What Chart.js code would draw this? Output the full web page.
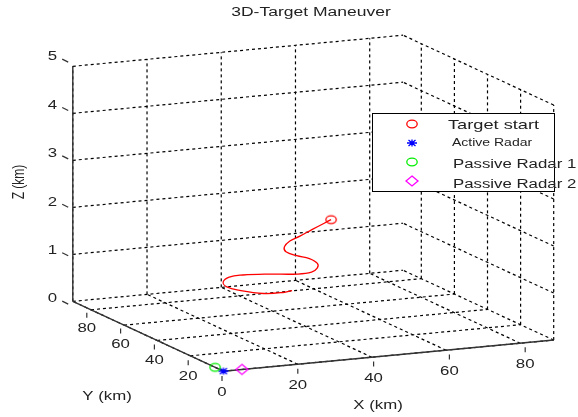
<!DOCTYPE html>
<html>
<head>
<meta charset="utf-8">
<script src="https://cdn.jsdelivr.net/npm/chart.js@4.4.0/dist/chart.umd.min.js"></script>
<style>
html,body{margin:0;padding:0;background:#fff;}
canvas{display:block;}
</style>
</head>
<body>
<canvas id="c" width="578" height="417"></canvas>
<script>
// ---------------- data ----------------
const chartTitle = '3D-Target Maneuver';
const xTitle = 'X (km)';
const yTitle = 'Y (km)';
const zTitle = 'Z (km)';

const xTicks = [0, 20, 40, 60, 80];
const xTickLabels = ['0', '20', '40', '60', '80'];
const yTicks = [0, 20, 40, 60, 80];
const yTickLabels = ['', '20', '40', '60', '80'];
const zTicks = [0, 1, 2, 3, 4, 5];
const zTickLabels = ['0', '1', '2', '3', '4', '5'];
const xLimits = [0, 89];
const yLimits = [0, 91];
const zLimits = [0, 5];

// target trajectory (km)
const targetX = [51.9, 46.4, 42.6, 40.3, 38.5, 38.8, 41.6, 45.3, 47.0, 46.9, 46.0, 44.1, 39.8, 36.1, 34.3, 32.9, 32.4, 34.9, 39.7, 45.0, 48.2];
const targetY = [51.3, 50.3, 49.3, 50.2, 49.5, 49.2, 49.0, 49.6, 48.6, 48.5, 49.9, 54.4, 62.5, 69.1, 73.4, 73.9, 70.9, 67.7, 64.8, 64.9, 66.6];
const targetZ = [2.00, 1.85, 1.75, 1.65, 1.55, 1.45, 1.35, 1.25, 1.15, 1.05, 0.95, 0.85, 0.75, 0.65, 0.55, 0.45, 0.40, 0.35, 0.30, 0.28, 0.27];

const activeRadar = [0, 0, 0];
const passiveRadar1 = [0, 5, 0];
const passiveRadar2 = [5, 0, 0];

const legendLabels = ['Target start', 'Active Radar', 'Passive Radar 1', 'Passive Radar 2'];

// ---------------- view (orthographic projection) ----------------
const ORIGIN = [222, 376];
const EX = [3.79, -0.36];
const EY = [-1.69, -0.79];
const EZ = [0, -48.4];
function proj(x, y, z) {
  return { x: ORIGIN[0] + EX[0] * x + EY[0] * y + EZ[0] * z,
           y: ORIGIN[1] + EX[1] * x + EY[1] * y + EZ[1] * z };
}

const FONT = '"Liberation Sans", Arial, Helvetica, sans-serif';
const SX = 1.4;
const TEXT = '#222222';

function makeMarker(kind, color) {
  const c = document.createElement('canvas');
  c.width = 16; c.height = 14;
  const g = c.getContext('2d');
  g.strokeStyle = color; g.lineWidth = 1.3;
  const cx = 8, cy = 7;
  g.beginPath();
  if (kind === 'circle') {
    g.ellipse(cx, cy, 5.2, 3.8, 0, 0, 2 * Math.PI);
  } else if (kind === 'diamond') {
    g.moveTo(cx, cy - 5); g.lineTo(cx + 6, cy); g.lineTo(cx, cy + 5); g.lineTo(cx - 6, cy); g.closePath();
  } else if (kind === 'star') {
    g.moveTo(cx - 5, cy); g.lineTo(cx + 5, cy);
    g.moveTo(cx - 3.5, cy - 3); g.lineTo(cx + 3.5, cy + 3);
    g.moveTo(cx - 3.5, cy + 3); g.lineTo(cx + 3.5, cy - 3);
    g.moveTo(cx, cy - 3.5); g.lineTo(cx, cy + 3.5);
  }
  g.stroke();
  return c;
}
const mkRed = makeMarker('circle', '#ff0000');
const mkBlue = makeMarker('star', '#0000ff');
const mkGreen = makeMarker('circle', '#00ee00');
const mkMag = makeMarker('diamond', '#ff00ff');
const legendMarkers = [mkRed, mkBlue, mkGreen, mkMag];

// ---------------- datasets ----------------
const datasets = [];
function addLine(p1, p2, dashed) {
  datasets.push({
    data: [proj(...p1), proj(...p2)],
    showLine: true, pointRadius: 0, pointHoverRadius: 0,
    borderColor: dashed ? '#000000' : '#333333',
    borderWidth: dashed ? 1.2 : 1.4,
    borderDash: dashed ? [3, 3] : [],
    order: dashed ? 10 : 5
  });
}
const xm = xLimits[1], ym = yLimits[1], zm = zLimits[1];
// back wall (y = ymax)
xTicks.forEach(t => addLine([t, ym, 0], [t, ym, zm], true));
zTicks.forEach(t => addLine([0, ym, t], [xm, ym, t], true));
// right wall (x = xmax)
yTicks.forEach(t => addLine([xm, t, 0], [xm, t, zm], true));
zTicks.forEach(t => addLine([xm, 0, t], [xm, ym, t], true));
// floor (z = 0)
xTicks.forEach(t => addLine([t, 0, 0], [t, ym, 0], true));
yTicks.forEach(t => addLine([0, t, 0], [xm, t, 0], true));
// solid axes
addLine([0, 0, 0], [xm, 0, 0], false);
addLine([0, 0, 0], [0, ym, 0], false);
addLine([0, ym, 0], [0, ym, zm], false);

// trajectory
datasets.push({
  data: targetX.map((x, i) => proj(x, targetY[i], targetZ[i])),
  showLine: true, pointRadius: 0, borderColor: '#ff0000', borderWidth: 1.3,
  tension: 0.4, order: 2
});
function markerSet(p, style) {
  return { data: [proj(...p)], showLine: false, pointStyle: style, pointRadius: 5, order: 1 };
}
datasets.push(markerSet([targetX[0], targetY[0], targetZ[0]], mkRed));
datasets.push(markerSet(passiveRadar1, mkGreen));
datasets.push(markerSet(passiveRadar2, mkMag));
datasets.push(markerSet(activeRadar, mkBlue));

// ---------------- text / ticks / legend plugin ----------------
function drawText(ctx, str, x, y, size, align, rot) {
  ctx.save();
  ctx.translate(x, y);
  ctx.scale(SX, 1);
  if (rot) ctx.rotate(rot);
  ctx.font = size + 'px ' + FONT;
  ctx.textAlign = align;
  ctx.textBaseline = 'middle';
  ctx.fillStyle = TEXT;
  ctx.fillText(str, 0, 0);
  ctx.restore();
}

const decor = {
  id: 'decor',
  afterDatasetsDraw(chart) {
    const ctx = chart.ctx;
    ctx.save();
    ctx.strokeStyle = '#333333';
    ctx.lineWidth = 1.2;
    // x ticks
    xTicks.forEach((t, i) => {
      const p = proj(t, 0, 0);
      ctx.beginPath(); ctx.moveTo(p.x, p.y); ctx.lineTo(p.x, p.y + 5); ctx.stroke();
      drawText(ctx, xTickLabels[i], p.x, p.y + 17, 12, 'center');
    });
    // y ticks
    yTicks.forEach((t, i) => {
      const p = proj(0, t, 0);
      if (t !== 0) { ctx.beginPath(); ctx.moveTo(p.x, p.y); ctx.lineTo(p.x, p.y + 5); ctx.stroke(); }
      if (yTickLabels[i]) drawText(ctx, yTickLabels[i], p.x, p.y + 16, 12, 'center');
    });
    // z ticks
    zTicks.forEach((t, i) => {
      const p = proj(0, ym, t);
      ctx.beginPath(); ctx.moveTo(p.x, p.y); ctx.lineTo(p.x - 6, p.y - 3); ctx.stroke();
      drawText(ctx, zTickLabels[i], p.x - 11, p.y - 5, 12, 'right');
    });
    // titles
    drawText(ctx, chartTitle, 311, 13, 12.5, 'center');
    drawText(ctx, xTitle, 378, 406, 12, 'center');
    drawText(ctx, yTitle, 107, 397, 12, 'center');
    drawText(ctx, zTitle, 19, 182, 12, 'center', -Math.PI / 2);

    // legend
    const bx = 372, by = 113, bw = 182, bh = 78;
    ctx.fillStyle = '#ffffff';
    ctx.fillRect(bx, by, bw, bh);
    ctx.strokeStyle = '#000000';
    ctx.lineWidth = 1;
    ctx.strokeRect(bx + 0.5, by + 0.5, bw, bh);
    const rowsY = [124, 143, 162, 181];
    const textX = [448, 452, 453, 453];
    const textY = [125, 143, 165, 185];
    const sizes = [13, 10, 12, 12];
    legendLabels.forEach((lab, i) => {
      const m = legendMarkers[i];
      ctx.drawImage(m, 412 - m.width / 2, rowsY[i] - m.height / 2);
      drawText(ctx, lab, textX[i], textY[i], sizes[i], 'left');
    });
    ctx.restore();
  }
};

new Chart(document.getElementById('c'), {
  type: 'scatter',
  data: { datasets },
  options: {
    responsive: false,
    devicePixelRatio: 1,
    animation: false,
    events: [],
    layout: { padding: 0 },
    scales: {
      x: { type: 'linear', min: 0, max: 578, display: false },
      y: { type: 'linear', min: 0, max: 417, reverse: true, display: false }
    },
    plugins: { legend: { display: false }, tooltip: { enabled: false }, title: { display: false } }
  },
  plugins: [decor]
});
</script>
</body>
</html>
